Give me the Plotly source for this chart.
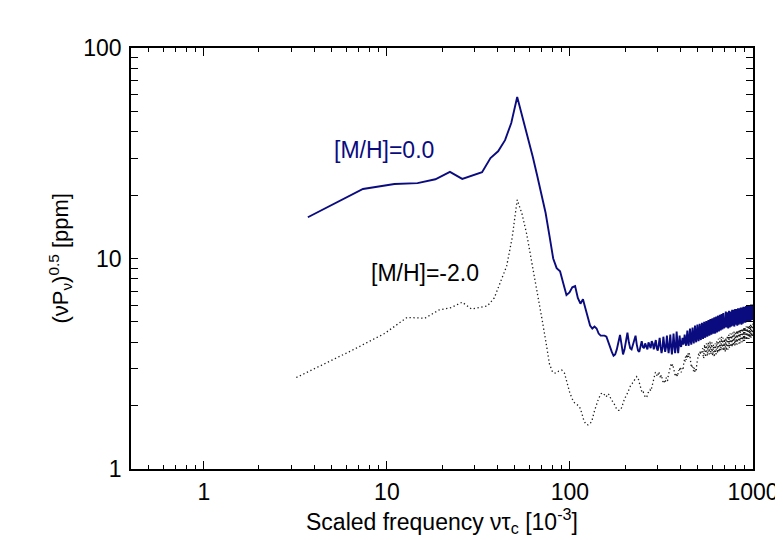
import plotly.graph_objects as go

# solar metallicity run, frequency bins (scaled frequency, 10^-3)
freq_solar = [
    3.7, 7.4, 11.0, 14.7, 18.4, 22.1, 25.8, 29.4, 33.1, 36.8,
    40.5, 44.2, 47.8, 51.5, 55.2, 58.9, 62.6, 66.2, 69.9, 73.6,
    77.3, 81.0, 84.6, 88.3, 92.0, 95.7, 99.4, 103.0, 106.7, 110.4,
    114.1, 117.8, 121.4, 125.1, 128.8, 132.5, 136.2, 139.8, 143.5, 147.2,
    150.9, 154.6, 158.2, 161.9, 165.6, 169.3, 173.0, 176.6, 180.3, 184.0,
    187.7, 191.4, 195.0, 198.7, 202.4, 206.1, 209.8, 213.4, 217.1, 220.8,
    224.5, 228.2, 231.8, 235.5, 239.2, 242.9, 246.6, 250.2, 253.9, 257.6,
    261.3, 265.0, 268.6, 272.3, 276.0, 279.7, 283.4, 287.0, 290.7, 294.4,
    298.1, 301.8, 305.4, 309.1, 312.8, 316.5, 320.2, 323.8, 327.5, 331.2,
    334.9, 338.6, 342.2, 345.9, 349.6, 353.3, 357.0, 360.6, 364.3, 368.0,
    371.7, 375.4, 379.0, 382.7, 386.4, 390.1, 393.8, 397.4, 401.1, 404.8,
    408.5, 412.2, 415.8, 419.5, 423.2, 426.9, 430.6, 434.2, 437.9, 441.6,
    445.3, 449.0, 452.6, 456.3, 460.0, 463.7, 467.4, 471.0, 474.7, 478.4,
    482.1, 485.8, 489.4, 493.1, 496.8, 500.5, 504.2, 507.8, 511.5, 515.2,
    518.9, 522.6, 526.2, 529.9, 533.6, 537.3, 541.0, 544.6, 548.3, 552.0,
    555.7, 559.4, 563.0, 566.7, 570.4, 574.1, 577.8, 581.4, 585.1, 588.8,
    592.5, 596.2, 599.8, 603.5, 607.2, 610.9, 614.6, 618.2, 621.9, 625.6,
    629.3, 633.0, 636.6, 640.3, 644.0, 647.7, 651.4, 655.0, 658.7, 662.4,
    666.1, 669.8, 673.4, 677.1, 680.8, 684.5, 688.2, 691.8, 695.5, 699.2,
    702.9, 706.6, 710.2, 713.9, 717.6, 721.3, 725.0, 728.6, 732.3, 736.0,
    739.7, 743.4, 747.0, 750.7, 754.4, 758.1, 761.8, 765.4, 769.1, 772.8,
    776.5, 780.2, 783.8, 787.5, 791.2, 794.9, 798.6, 802.2, 805.9, 809.6,
    813.3, 817.0, 820.6, 824.3, 828.0, 831.7, 835.4, 839.0, 842.7, 846.4,
    850.1, 853.8, 857.4, 861.1, 864.8, 868.5, 872.2, 875.8, 879.5, 883.2,
    886.9, 890.6, 894.2, 897.9, 901.6, 905.3, 909.0, 912.6, 916.3, 920.0,
    923.7, 927.4, 931.0, 934.7, 938.4, 942.1, 945.8, 949.4, 953.1, 956.8,
    960.5, 964.2, 967.8, 971.5, 975.2, 978.9, 982.6, 986.2, 989.9, 993.6,
    997.3, 1001.0,
]
amp_solar = [
    15.7, 21.4, 22.6, 22.8, 23.8, 25.8, 23.9, 24.8, 25.7, 30.0,
    32.3, 36.5, 44.0, 58.5, 46.9, 37.8, 30.5, 24.8, 20.3, 16.5,
    12.8, 10.0, 9.0, 8.7, 7.6, 6.7, 6.9, 7.3, 7.4, 6.5,
    6.1, 6.4, 5.8, 5.3, 4.8, 4.65, 4.75, 4.65, 4.4, 4.3,
    4.3, 4.3, 4.25, 4.0, 3.8, 3.6, 3.45, 3.5, 3.7, 4.0,
    4.33, 3.9, 3.5, 3.7, 4.1, 4.44, 4.0, 3.75, 3.7, 3.9,
    4.2, 4.3, 3.9, 3.65, 3.6, 3.85, 4.05, 3.8, 3.75, 3.95,
    3.8, 3.7, 4.0, 3.85, 3.75, 4.05, 3.95, 3.7, 3.85, 4.1,
    3.75, 3.65, 3.9, 4.2, 3.8, 3.55, 3.75, 4.25, 3.9, 3.6,
    3.8, 4.3, 3.85, 3.55, 3.9, 4.35, 3.8, 3.5, 3.85, 4.4,
    3.9, 3.55, 3.8, 4.5, 4.0, 3.55, 3.9, 4.3, 3.9, 3.8,
    4.0, 4.2, 3.9, 4.0, 4.35, 4.05, 3.85, 4.15, 4.55, 4.0,
    3.85, 4.25, 4.65, 4.1, 3.9, 4.3, 4.7, 4.15, 3.95, 4.35,
    4.8, 4.2, 4.0, 4.4, 4.85, 4.25, 4.05, 4.45, 4.9, 4.3,
    4.1, 4.5, 4.95, 4.35, 4.15, 4.6, 5.0, 4.4, 4.2, 4.65,
    5.05, 4.45, 4.25, 4.7, 5.1, 4.5, 4.3, 4.75, 5.15, 4.55,
    4.35, 4.8, 5.2, 4.6, 4.4, 4.85, 5.25, 4.65, 4.4, 4.9,
    5.3, 4.7, 4.45, 4.95, 5.35, 4.75, 4.5, 5.0, 5.4, 4.8,
    4.55, 5.05, 5.45, 4.85, 4.6, 5.1, 5.5, 4.9, 4.65, 5.15,
    4.7, 5.2, 5.6, 4.95, 4.7, 5.2, 5.55, 4.9, 4.65, 5.25,
    5.65, 5.0, 4.7, 5.3, 5.6, 4.95, 4.75, 5.3, 5.7, 5.05,
    4.8, 5.35, 5.7, 5.0, 4.75, 5.35, 5.75, 5.1, 4.85, 5.4,
    5.75, 5.05, 4.8, 5.4, 5.8, 5.1, 4.85, 5.45, 5.8, 5.15,
    4.9, 5.45, 5.85, 5.1, 4.85, 5.5, 5.85, 5.2, 4.9, 5.5,
    5.9, 5.15, 4.95, 5.55, 5.9, 5.2, 4.95, 5.55, 5.95, 5.25,
    5.0, 5.6, 5.95, 5.2, 5.0, 5.6, 6.0, 5.3, 5.05, 5.65,
    6.0, 5.25, 5.05, 5.65, 6.05, 5.3, 5.1, 5.7, 6.05, 5.35,
    5.1, 5.7,
]

# metal-poor run
freq_poor = [
    3.2, 6.4, 9.7, 12.9, 16.1, 19.3, 22.5, 25.8, 29.0, 32.2,
    35.4, 38.6, 41.9, 45.1, 48.3, 51.5, 54.7, 58.0, 61.2, 64.4,
    67.6, 70.8, 74.1, 77.3, 80.5, 83.7, 86.9, 90.2, 93.4, 96.6,
    99.8, 103.0, 106.3, 109.5, 112.7, 115.9, 119.1, 122.4, 125.6, 128.8,
    132.0, 135.2, 138.5, 141.7, 144.9, 148.1, 151.3, 154.6, 157.8, 161.0,
    164.2, 167.4, 170.7, 173.9, 177.1, 180.3, 183.5, 186.8, 190.0, 193.2,
    196.4, 199.6, 202.9, 206.1, 209.3, 212.5, 215.7, 219.0, 222.2, 225.4,
    228.6, 231.8, 235.1, 238.3, 241.5, 244.7, 247.9, 251.2, 254.4, 257.6,
    260.8, 264.0, 267.3, 270.5, 273.7, 276.9, 280.1, 283.4, 286.6, 289.8,
    293.0, 296.2, 299.5, 302.7, 305.9, 309.1, 312.3, 315.6, 318.8, 322.0,
    325.2, 328.4, 331.7, 334.9, 338.1, 341.3, 344.5, 347.8, 351.0, 354.2,
    357.4, 360.6, 363.9, 367.1, 370.3, 373.5, 376.7, 380.0, 383.2, 386.4,
    389.6, 392.8, 396.1, 399.3, 402.5, 405.7, 408.9, 412.2, 415.4, 418.6,
    421.8, 425.0, 428.3, 431.5, 434.7, 437.9, 441.1, 444.4, 447.6, 450.8,
    454.0, 457.2, 460.5, 463.7, 466.9, 470.1, 473.3, 476.6, 479.8, 483.0,
    486.2, 489.4, 492.7, 495.9, 499.1, 502.3, 505.5, 508.8, 512.0, 515.2,
    518.4, 521.6, 524.9, 528.1, 531.3, 534.5, 537.7, 541.0, 544.2, 547.4,
    550.6, 553.8, 557.1, 560.3, 563.5, 566.7, 569.9, 573.2, 576.4, 579.6,
    582.8, 586.0, 589.3, 592.5, 595.7, 598.9, 602.1, 605.4, 608.6, 611.8,
    615.0, 618.2, 621.5, 624.7, 627.9, 631.1, 634.3, 637.6, 640.8, 644.0,
    647.2, 650.4, 653.7, 656.9, 660.1, 663.3, 666.5, 669.8, 673.0, 676.2,
    679.4, 682.6, 685.9, 689.1, 692.3, 695.5, 698.7, 702.0, 705.2, 708.4,
    711.6, 714.8, 718.1, 721.3, 724.5, 727.7, 730.9, 734.2, 737.4, 740.6,
    743.8, 747.0, 750.3, 753.5, 756.7, 759.9, 763.1, 766.4, 769.6, 772.8,
    776.0, 779.2, 782.5, 785.7, 788.9, 792.1, 795.3, 798.6, 801.8, 805.0,
    808.2, 811.4, 814.7, 817.9, 821.1, 824.3, 827.5, 830.8, 834.0, 837.2,
    840.4, 843.6, 846.9, 850.1, 853.3, 856.5, 859.7, 863.0, 866.2, 869.4,
    872.6, 875.8, 879.1, 882.3, 885.5, 888.7, 891.9, 895.2, 898.4, 901.6,
    904.8, 908.0, 911.3, 914.5, 917.7, 920.9, 924.1, 927.4, 930.6, 933.8,
    937.0, 940.2, 943.5, 946.7, 949.9, 953.1, 956.3, 959.6, 962.8, 966.0,
    969.2, 972.4, 975.7, 978.9, 982.1, 985.3, 988.5, 991.8, 995.0, 998.2,
    1001.4,
]
amp_poor = [
    2.72, 3.65, 4.4, 5.25, 5.2, 5.7, 5.85, 6.2, 5.75, 5.85,
    5.95, 6.5, 7.8, 9.2, 12.5, 19.0, 16.3, 13.1, 10.1, 8.0,
    6.3, 5.0, 3.96, 3.15, 2.88, 2.85, 2.92, 2.95, 2.85, 2.55,
    2.3, 2.15, 2.05, 2.02, 1.98, 1.85, 1.7, 1.63, 1.62, 1.64,
    1.7, 1.85, 2.0, 2.1, 2.2, 2.28, 2.3, 2.25, 2.2, 2.28,
    2.25, 2.15, 2.1, 2.05, 1.98, 1.92, 1.9, 1.9, 1.92, 2.0,
    2.1, 2.18, 2.22, 2.3, 2.4, 2.48, 2.52, 2.55, 2.6, 2.65,
    2.7, 2.75, 2.72, 2.6, 2.45, 2.35, 2.3, 2.32, 2.25, 2.2,
    2.18, 2.22, 2.3, 2.35, 2.38, 2.35, 2.45, 2.6, 2.75, 2.85,
    2.88, 2.85, 2.75, 2.8, 2.9, 2.82, 2.7, 2.8, 2.65, 2.6,
    2.55, 2.62, 2.58, 2.72, 2.65, 2.62, 2.78, 2.9, 3.05, 3.1,
    3.18, 3.05, 3.15, 3.05, 2.95, 2.85, 2.75, 2.78, 2.85, 2.75,
    2.82, 2.95, 2.9, 3.05, 2.92, 2.88, 3.0, 2.95, 2.95, 3.2,
    3.3, 3.22, 3.42, 3.3, 3.5, 3.35, 3.55, 3.4, 3.55, 3.5,
    3.35, 3.25, 3.05, 3.1, 3.0, 3.05, 2.92, 3.02, 2.9, 2.95,
    3.0, 2.9, 3.15, 3.25, 3.45, 3.4, 3.55, 3.45, 3.6, 3.5,
    3.65, 3.6, 3.6, 3.7, 3.75, 3.45, 3.35, 3.7, 3.9, 3.55,
    3.4, 3.75, 3.95, 3.6, 3.45, 3.8, 4.0, 3.65, 3.5, 3.85,
    4.05, 3.7, 3.5, 3.8, 4.0, 3.6, 3.45, 3.75, 3.9, 3.55,
    3.4, 3.7, 3.95, 3.6, 3.5, 3.85, 4.05, 3.7, 3.55, 3.9,
    4.15, 3.8, 3.6, 3.95, 4.2, 3.85, 3.65, 4.0, 4.25, 3.85,
    3.7, 4.0, 4.2, 3.8, 3.65, 3.95, 4.15, 3.75, 3.6, 3.95,
    4.2, 3.8, 3.65, 4.0, 4.3, 3.9, 3.7, 4.05, 4.35, 3.95,
    3.75, 4.1, 4.4, 4.0, 3.8, 4.15, 4.4, 4.0, 3.8, 4.15,
    4.45, 4.05, 3.85, 4.2, 4.5, 4.05, 3.85, 4.2, 4.5, 4.1,
    3.9, 4.25, 4.55, 4.1, 3.9, 4.3, 4.55, 4.15, 3.95, 4.3,
    4.6, 4.15, 3.95, 4.35, 4.6, 4.2, 4.0, 4.35, 4.65, 4.2,
    4.0, 4.4, 4.65, 4.25, 4.05, 4.4, 4.7, 4.25, 4.05, 4.45,
    4.7, 4.3, 4.1, 4.45, 4.75, 4.3, 4.1, 4.5, 4.75, 4.35,
    4.15, 4.5, 4.8, 4.35, 4.15, 4.55, 4.8, 4.4, 4.2, 4.55,
    4.85, 4.4, 4.2, 4.6, 4.85, 4.45, 4.25, 4.6, 4.9, 4.45,
    4.3,
]

x_major = [1, 10, 100, 1000]
y_major = [1, 10, 100]
x_minor = [0.5, 0.6, 0.7, 0.8, 0.9, 2, 3, 4, 5, 6, 7, 8, 9,
           20, 30, 40, 50, 60, 70, 80, 90, 200, 300, 400, 500, 600, 700, 800, 900]
y_minor = [2, 3, 4, 5, 6, 7, 8, 9, 20, 30, 40, 50, 60, 70, 80, 90]

FONT = "Liberation Sans, Arial, Helvetica, sans-serif"
NAVY = "#0b0b80"

fig = go.Figure()
fig.add_trace(go.Scatter(x=freq_poor, y=amp_poor, mode="lines",
                         line=dict(color="#1a1a1a", width=1.3, dash="1.3px,2.6px"),
                         name="[M/H]=-2.0"))
fig.add_trace(go.Scatter(x=freq_solar, y=amp_solar, mode="lines",
                         line=dict(color=NAVY, width=1.9),
                         name="[M/H]=0.0"))

axis_common = dict(
    type="log", showgrid=False, zeroline=False,
    showline=True, linecolor="black", linewidth=1.5, mirror="allticks",
    ticks="inside", tickcolor="black", tickwidth=1.2,
    tickfont=dict(family=FONT, size=23, color="black"),
)

fig.update_xaxes(
    **axis_common,
    range=[-0.398, 3],
    tickvals=x_major, ticktext=[str(v) for v in x_major], ticklen=8,
    ticklabelstandoff=2,
    minor=dict(tickvals=x_minor, ticks="inside", ticklen=4, tickcolor="black", tickwidth=1.2, showgrid=False),
)
fig.update_yaxes(
    **axis_common,
    range=[0, 2],
    tickvals=y_major, ticktext=[str(v) for v in y_major], ticklen=7,
    ticklabelstandoff=3,
    minor=dict(tickvals=y_minor, ticks="inside", ticklen=7, tickcolor="black", tickwidth=1.2, showgrid=False),
)

# axis titles
fig.add_annotation(x=0.5, y=-0.124, xref="paper", yref="paper", yanchor="middle",
                   text="Scaled frequency ντ<sub>c</sub> [10<sup>-3</sup>]", showarrow=False,
                   font=dict(family=FONT, size=23, color="black"))
fig.add_annotation(x=-0.114, y=0.5, xref="paper", yref="paper", xanchor="center", yanchor="middle",
                   textangle=-90, text="(νP<sub>ν</sub>)<sup>0.5</sup> [ppm]", showarrow=False,
                   font=dict(family=FONT, size=22, color="black"))

# curve labels
fig.add_annotation(x=0.984, y=1.514, xref="x", yref="y", text="[M/H]=0.0", showarrow=False,
                   font=dict(family=FONT, size=23, color=NAVY))
fig.add_annotation(x=1.208, y=0.933, xref="x", yref="y", text="[M/H]=-2.0", showarrow=False,
                   font=dict(family=FONT, size=23, color="black"))

fig.update_layout(
    width=783, height=540,
    margin=dict(l=123, r=38, t=40, b=79),
    paper_bgcolor="white", plot_bgcolor="white",
    showlegend=False,
)

fig.write_html("out.html")
